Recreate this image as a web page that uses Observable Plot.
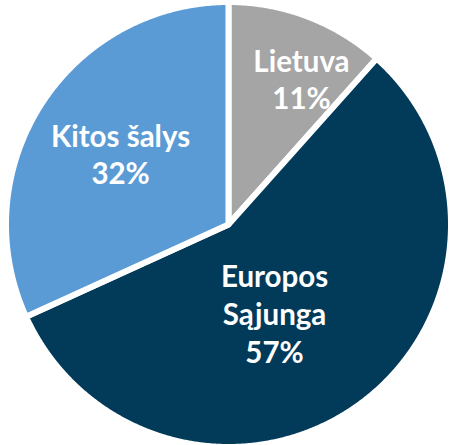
<!DOCTYPE html>
<html><head><meta charset="utf-8">
<script src="https://cdn.jsdelivr.net/npm/d3@7"></script>
<script src="https://cdn.jsdelivr.net/npm/@observablehq/plot@0.6"></script>
<style>html,body{margin:0;padding:0;background:#fff;}</style>
</head><body><div id="chart"></div>
<script>
const categories = ["Lietuva", "Europos Sąjunga", "Kitos šalys"];
const values = [11.6, 56.6, 31.8];
const labels = ["Lietuva\n11%", "Europos\nSąjunga\n57%", "Kitos šalys\n32%"];
const colors = ["#a5a5a5", "#023a5a", "#5b9bd5"];

// label anchors in unit-circle coordinates (layout)
const labelAnchor = [[0.328, 0.656], [0.207, -0.397], [-0.485, 0.319]];

const pie = d3.pie().sort(null).value(d => d.value);
const table = categories.map((c, i) => ({cat: c, value: values[i], label: labels[i]}));
const arcs = pie(table);
const pts = [];
arcs.forEach(a => {
  pts.push({cat: a.data.cat, x: 0, y: 0});
  const n = Math.max(2, Math.ceil((a.endAngle - a.startAngle) / 0.005));
  for (let k = 0; k <= n; k++) {
    const t = a.startAngle + (a.endAngle - a.startAngle) * k / n;
    pts.push({cat: a.data.cat, x: Math.sin(t), y: Math.cos(t)});
  }
});
const lab = table.map((d, i) => ({label: d.label, x: labelAnchor[i][0], y: labelAnchor[i][1]}));

const cx = 228, cy = 224, R = 222.5;
const chart = Plot.plot({
  width: 449, height: 445, margin: 0,
  x: {domain: [-1, 1], range: [cx - R, cx + R], axis: null},
  y: {domain: [-1, 1], range: [cy + R, cy - R], axis: null},
  color: {domain: categories, range: colors},
  marks: [
    Plot.line(pts, {x: "x", y: "y", z: "cat", fill: "cat", stroke: "white", strokeWidth: 6, strokeLinejoin: "round", curve: "linear-closed"}),
    Plot.text(lab, {x: "x", y: "y", text: "label", fill: "white", fontSize: 29.5, fontWeight: "bold", fontFamily: "Lato", lineHeight: 1.28, lineAnchor: "middle"})
  ]
});
document.getElementById("chart").appendChild(chart);
</script></body></html>
